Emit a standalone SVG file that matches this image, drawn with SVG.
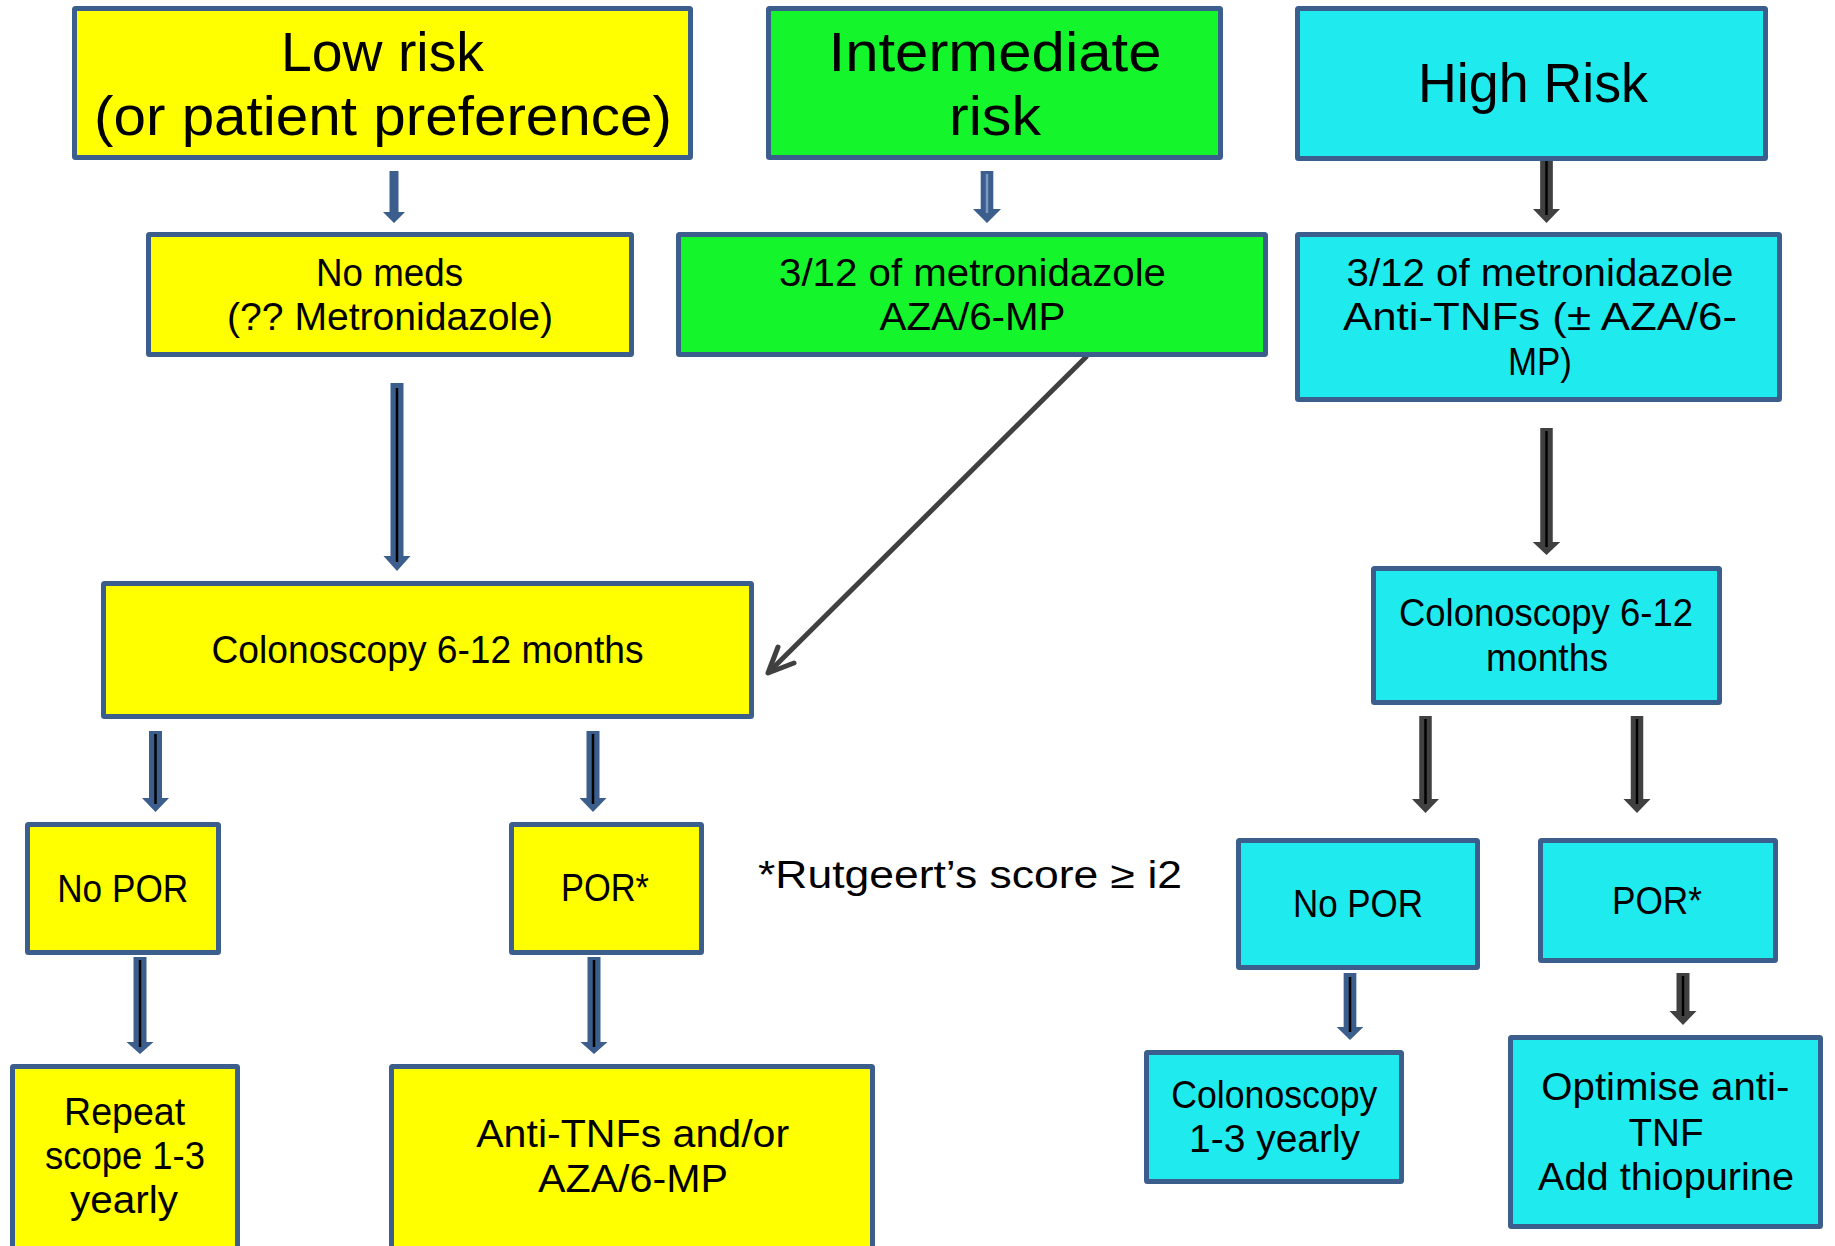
<svg xmlns="http://www.w3.org/2000/svg" width="1835" height="1246" viewBox="0 0 1835 1246">
<style>
.box{stroke:#3B5E8C;stroke-width:5;rx:1}
.y{fill:#FFFF00}
.g{fill:#14F52C}
.c{fill:#1FEBEF}
text{font-family:"Liberation Sans",Arial,sans-serif;fill:#000;text-anchor:middle}
.tt{font-size:56px}
.tb{font-size:38px}
.ab{fill:#3B5E8C}
.ag{fill:#404040}
.in{stroke:#000;stroke-width:2.5}
.inl{stroke:#7A98C2;stroke-width:2.5}
.diag{fill:none;stroke:#404040;stroke-width:5;stroke-linecap:round;stroke-linejoin:round}
</style>
<rect width="1835" height="1246" fill="#fff"/>
<g id="connectors">
<polygon class="ab" points="389.5,171 398.5,171 398.5,212 405,212 394,223 383,212 389.5,212"/>
<polygon class="ab" points="980.7,171 993.3,171 993.3,209 1001,209 987,223 973,209 980.7,209"/>
<line class="inl" x1="987" y1="174" x2="987" y2="213"/>
<polygon class="ag" points="1540.15,158 1552.85,158 1552.85,209 1560,209 1546.5,223 1533,209 1540.15,209"/>
<line class="in" x1="1546.5" y1="160" x2="1546.5" y2="215"/>
<polygon class="ab" points="390.5,383 403.5,383 403.5,556 410.5,556 397,571 383.5,556 390.5,556"/>
<line class="in" x1="397" y1="388" x2="397" y2="562"/>
<line class="diag" x1="1086" y1="357" x2="770" y2="671"/>
<polyline class="diag" points="778,647 768,673 794,663"/>
<polygon class="ab" points="149,731 162,731 162,798 169,798 155.5,812 142,798 149,798"/>
<line class="in" x1="155.5" y1="734" x2="155.5" y2="804"/>
<polygon class="ab" points="586.5,731 599.5,731 599.5,798 606.5,798 593,812 579.5,798 586.5,798"/>
<line class="in" x1="593" y1="734" x2="593" y2="804"/>
<polygon class="ab" points="133.5,957 146.5,957 146.5,1042 153.5,1042 140,1054 126.5,1042 133.5,1042"/>
<line class="in" x1="140" y1="960" x2="140" y2="1047"/>
<polygon class="ab" points="587.5,957 600.5,957 600.5,1042 607.5,1042 594,1054 580.5,1042 587.5,1042"/>
<line class="in" x1="594" y1="960" x2="594" y2="1047"/>
<polygon class="ag" points="1540.25,428 1552.75,428 1552.75,542 1560.25,542 1546.5,555 1532.75,542 1540.25,542"/>
<line class="in" x1="1546.5" y1="431" x2="1546.5" y2="547"/>
<polygon class="ag" points="1419.25,716 1431.75,716 1431.75,799 1439,799 1425.5,813 1412,799 1419.25,799"/>
<line class="in" x1="1425.5" y1="719" x2="1425.5" y2="804"/>
<polygon class="ag" points="1630.75,716 1643.25,716 1643.25,799 1650.5,799 1637,813 1623.5,799 1630.75,799"/>
<line class="in" x1="1637" y1="719" x2="1637" y2="804"/>
<polygon class="ab" points="1343.65,973 1356.35,973 1356.35,1027 1363.35,1027 1350,1040 1336.65,1027 1343.65,1027"/>
<line class="in" x1="1350" y1="977" x2="1350" y2="1032"/>
<polygon class="ag" points="1676.5,973 1689.5,973 1689.5,1011 1696.5,1011 1683,1025 1669.5,1011 1676.5,1011"/>
<line class="in" x1="1683" y1="976" x2="1683" y2="1016"/>
</g>
<g id="low-risk">
<rect class="box y" x="74.5" y="8.5" width="616" height="149"/>
<text class="tt" x="382.5" y="71" textLength="203" lengthAdjust="spacingAndGlyphs">Low risk</text>
<text class="tt" x="383" y="135" textLength="578" lengthAdjust="spacingAndGlyphs">(or patient preference)</text>
</g>
<g id="intermediate-risk">
<rect class="box g" x="768.5" y="8.5" width="452" height="149"/>
<text class="tt" x="995" y="71" textLength="333" lengthAdjust="spacingAndGlyphs">Intermediate</text>
<text class="tt" x="995" y="135" textLength="92" lengthAdjust="spacingAndGlyphs">risk</text>
</g>
<g id="high-risk">
<rect class="box c" x="1297.5" y="8.5" width="468" height="150"/>
<text class="tt" x="1533" y="102" textLength="230" lengthAdjust="spacingAndGlyphs">High Risk</text>
</g>
<g id="no-meds">
<rect class="box y" x="148.5" y="234.5" width="483" height="120"/>
<text class="tb" x="389.5" y="286" textLength="147" lengthAdjust="spacingAndGlyphs">No meds</text>
<text class="tb" x="390" y="330" textLength="326" lengthAdjust="spacingAndGlyphs">(?? Metronidazole)</text>
</g>
<g id="intermediate-meds">
<rect class="box g" x="678.5" y="234.5" width="587" height="120"/>
<text class="tb" x="972.5" y="286" textLength="387" lengthAdjust="spacingAndGlyphs">3/12 of metronidazole</text>
<text class="tb" x="972.5" y="330" textLength="186" lengthAdjust="spacingAndGlyphs">AZA/6-MP</text>
</g>
<g id="high-meds">
<rect class="box c" x="1297.5" y="234.5" width="482" height="165"/>
<text class="tb" x="1540" y="286" textLength="387" lengthAdjust="spacingAndGlyphs">3/12 of metronidazole</text>
<text class="tb" x="1540" y="330" textLength="394" lengthAdjust="spacingAndGlyphs">Anti-TNFs (± AZA/6-</text>
<text class="tb" x="1540" y="375" textLength="64" lengthAdjust="spacingAndGlyphs">MP)</text>
</g>
<g id="low-colonoscopy">
<rect class="box y" x="103.5" y="583.5" width="648" height="133"/>
<text class="tb" x="427.5" y="663" textLength="432" lengthAdjust="spacingAndGlyphs">Colonoscopy 6-12 months</text>
</g>
<g id="high-colonoscopy">
<rect class="box c" x="1373.5" y="568.5" width="346" height="134"/>
<text class="tb" x="1546" y="626" textLength="294" lengthAdjust="spacingAndGlyphs">Colonoscopy 6-12</text>
<text class="tb" x="1547" y="671" textLength="122" lengthAdjust="spacingAndGlyphs">months</text>
</g>
<g id="low-no-por">
<rect class="box y" x="27.5" y="824.5" width="191" height="128"/>
<text class="tb" x="122.7" y="901.5" textLength="131" lengthAdjust="spacingAndGlyphs">No POR</text>
</g>
<g id="low-por">
<rect class="box y" x="511.5" y="824.5" width="190" height="128"/>
<text class="tb" x="605" y="901" textLength="88" lengthAdjust="spacingAndGlyphs">POR*</text>
</g>
<g id="footnote">
<text class="tb" x="970" y="888" textLength="424" lengthAdjust="spacingAndGlyphs">*Rutgeert’s score ≥ i2</text>
</g>
<g id="high-no-por">
<rect class="box c" x="1238.5" y="840.5" width="239" height="127"/>
<text class="tb" x="1358" y="917" textLength="130" lengthAdjust="spacingAndGlyphs">No POR</text>
</g>
<g id="high-por">
<rect class="box c" x="1540.5" y="840.5" width="235" height="120"/>
<text class="tb" x="1657" y="914" textLength="90" lengthAdjust="spacingAndGlyphs">POR*</text>
</g>
<g id="repeat-scope">
<rect class="box y" x="12.5" y="1066.5" width="225" height="200"/>
<text class="tb" x="124.6" y="1125" textLength="121" lengthAdjust="spacingAndGlyphs">Repeat</text>
<text class="tb" x="125" y="1169" textLength="160" lengthAdjust="spacingAndGlyphs">scope 1-3</text>
<text class="tb" x="124" y="1213" textLength="108" lengthAdjust="spacingAndGlyphs">yearly</text>
</g>
<g id="anti-tnf-low">
<rect class="box y" x="391.5" y="1066.5" width="481" height="200"/>
<text class="tb" x="632.7" y="1147" textLength="313" lengthAdjust="spacingAndGlyphs">Anti-TNFs and/or</text>
<text class="tb" x="633" y="1192" textLength="190" lengthAdjust="spacingAndGlyphs">AZA/6-MP</text>
</g>
<g id="colonoscopy-yearly">
<rect class="box c" x="1146.5" y="1052.5" width="255" height="129"/>
<text class="tb" x="1274.3" y="1108" textLength="206" lengthAdjust="spacingAndGlyphs">Colonoscopy</text>
<text class="tb" x="1274.6" y="1152" textLength="171" lengthAdjust="spacingAndGlyphs">1-3 yearly</text>
</g>
<g id="optimise">
<rect class="box c" x="1510.5" y="1037.5" width="310" height="189"/>
<text class="tb" x="1665.3" y="1100" textLength="248" lengthAdjust="spacingAndGlyphs">Optimise anti-</text>
<text class="tb" x="1666" y="1145.5" textLength="75" lengthAdjust="spacingAndGlyphs">TNF</text>
<text class="tb" x="1666" y="1190" textLength="256" lengthAdjust="spacingAndGlyphs">Add thiopurine</text>
</g>
</svg>
